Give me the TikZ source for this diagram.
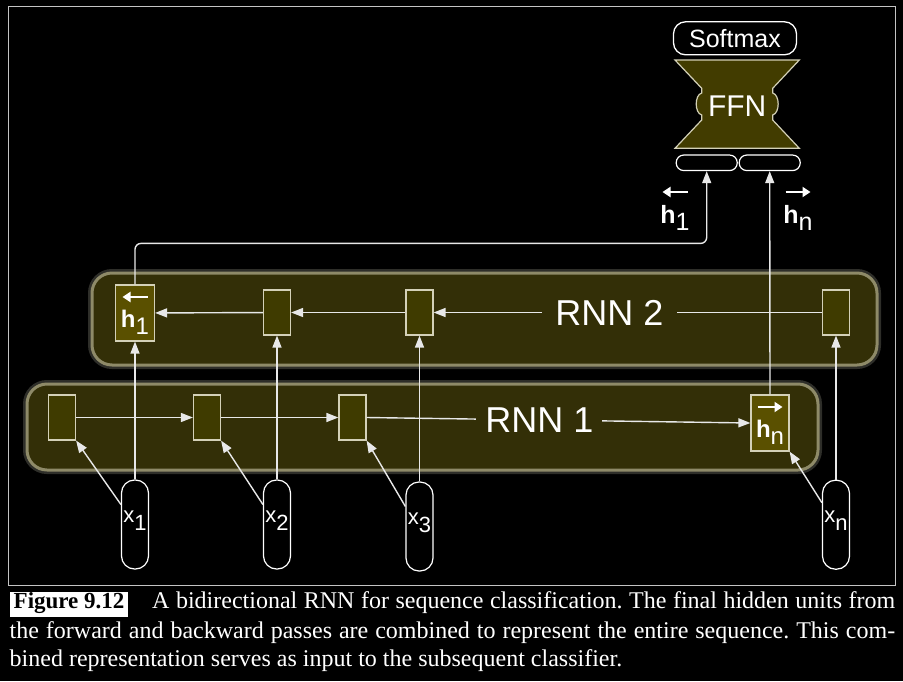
\documentclass[tikz,border=0pt]{standalone}
\usepackage{fontspec}
\setmainfont{Liberation Sans}
\newfontfamily\capfont{Liberation Serif}
\usetikzlibrary{arrows.meta,calc}
\definecolor{rnnfill}{HTML}{332F07}
\definecolor{rnnborder}{HTML}{8E8A68}
\definecolor{cellfill}{HTML}{3F3B00}
\definecolor{hcellfill}{HTML}{5A5000}
\definecolor{cellborder}{HTML}{D4D1B8}
\definecolor{ffnfill}{HTML}{423C00}
\definecolor{linecol}{HTML}{E8E8E8}
\definecolor{framecol}{HTML}{C4C4C4}
\newcommand\larrow{\tikz[baseline=-3pt]\draw[white, line width=2.2pt, -{Triangle[length=8pt,width=10pt]}] (25pt,0pt) -- (0pt,0pt);}
\newcommand\rarrow{\tikz[baseline=-3pt]\draw[white, line width=2.2pt, -{Triangle[length=8pt,width=10pt]}] (0pt,0pt) -- (25pt,0pt);}
\newcommand\hlab[2]{#1\\\textbf{h}\raisebox{-7pt}{#2}}
\tikzset{
  rnnbox/.style={draw=rnnborder, fill=rnnfill, line width=3pt, rounded corners=20pt,
    preaction={draw=rnnborder!60!white, line width=8pt, opacity=0.25}},
  cell/.style={draw=cellborder, fill=cellfill, line width=1.2pt, minimum width=27pt,
    minimum height=45pt, inner sep=0pt},
  hcell/.style={cell, fill=hcellfill, minimum width=39pt, minimum height=56pt,
    text=white, align=center, font=\fontsize{24}{27}\selectfont},
  pill/.style={draw=white, fill=black, line width=1.2pt, rounded corners=13pt,
    minimum width=27pt, minimum height=89pt, inner sep=0pt, text=white,
    font=\fontsize{22}{22}\selectfont, text height=14pt, text depth=18.6pt},
  slot/.style={draw=white, fill=black, line width=1.2pt, rounded corners=7.5pt,
    minimum height=15.5pt, inner sep=0pt},
  conn/.style={draw=linecol, line width=1.4pt, -{Triangle[length=12pt,width=9pt]}},
  lab/.style={fill=rnnfill, text=white, font=\fontsize{36}{36}\selectfont, inner ysep=2pt},
  toplab/.style={text=white, align=center, font=\fontsize{25}{28}\selectfont, inner sep=0pt},
  captext/.style={anchor=base west, inner sep=0pt, text=white,
    font=\capfont\fontsize{24}{29}\selectfont\frenchspacing}
}
\begin{document}
\begin{tikzpicture}[x=1pt,y=-1pt]
\fill[black] (0,0) rectangle (903,681);
\useasboundingbox (0,0) rectangle (903,681);
\draw[framecol, line width=1.5pt] (8.5,6.5) rectangle (895.5,585.5);

% RNN containers
\node[rnnbox, minimum width=785pt, minimum height=92pt] (rnn2) at (484.5,319) {};
\node[rnnbox, minimum width=791pt, minimum height=86pt] (rnn1) at (422.5,427) {};

% RNN 2 cells
\node[hcell] (r2a) at (135,313) {\hlab{\larrow}{1}};
\node[cell] (r2b) at (277,312.5) {};
\node[cell] (r2c) at (419.5,312.5) {};
\node[cell] (r2d) at (836,312.5) {};

% RNN 1 cells
\node[cell] (r1a) at (62,417.5) {};
\node[cell] (r1b) at (207,417.5) {};
\node[cell] (r1c) at (352.5,417.5) {};
\node[hcell, minimum width=38pt] (r1d) at (770,423) {\hlab{\rarrow}{n}};

% inputs
\node[pill] (x1) at (135,524.5) {x\raisebox{-8pt}{1}};
\node[pill] (x2) at (277,524.5) {x\raisebox{-8pt}{2}};
\node[pill] (x3) at (419.5,526.5) {x\raisebox{-8pt}{3}};
\node[pill] (xn) at (836,524.7) {x\raisebox{-8pt}{n}};

% classifier
\node[draw=white, fill=black, line width=1.3pt, rounded corners=12pt, minimum width=123pt,
  minimum height=33pt, inner sep=0pt, text=white, font=\fontsize{25}{25}\selectfont]
  (softmax) at (735,38.3) {Softmax};
\fill[ffnfill, draw=cellborder, line width=1.2pt]
  (675,60) -- (799.3,60) -- (772.7,88.3) -- (772.7,93)
  .. controls (780,95) and (780,113) .. (772.7,115) -- (772.7,120)
  -- (799.3,148.3) -- (675,148.3) -- (701.7,120) -- (701.7,115)
  .. controls (694.4,113) and (694.4,95) .. (701.7,93) -- (701.7,88.3) -- cycle;
\node[text=white, font=\fontsize{30}{30}\selectfont, inner sep=0pt] (ffn) at (737.2,106) {FFN};
\node[slot, minimum width=61pt] (slotL) at (706.7,162.8) {};
\node[slot, minimum width=61pt] (slotR) at (769.7,162.8) {};
\node[toplab] (hl) at (675,208.5) {\hlab{\larrow}{1}};
\node[toplab] (hr) at (798,208.5) {\hlab{\rarrow}{n}};

% RNN 1 connections
\draw[conn] (r1a) -- (r1b);
\draw[conn] (r1b) -- (r1c);
\draw[conn] (r1c.east) -- node[lab, inner xsep=9pt, pos=0.45] {RNN 1} (r1d.west);
% RNN 2 connections
\draw[conn] (r2d.west) -- node[lab, inner xsep=13pt, pos=0.547] {RNN 2} (r2c.east);
\draw[conn] (r2c) -- (r2b);
\draw[conn] (r2b) -- (r2a);

% inputs to cells
\draw[conn] (x1) -- (r2a);
\draw[conn] (x2) -- (r2b);
\draw[conn] (x3) -- (r2c);
\draw[conn] (xn) -- (r2d);
\draw[conn] ([yshift=20pt]x1.west) -- (r1a.south east);
\draw[conn] ([yshift=20pt]x2.west) -- (r1b.south east);
\draw[conn] ([yshift=20pt]x3.west) -- (r1c.south east);
\draw[conn] ([yshift=22pt]xn.west) -- (r1d.south east);

% to classifier
\draw[conn, rounded corners=6pt] (r2a.north) -- ++(0,-41) -| (slotL.south);
\draw[conn] (r1d.north) -- (slotR.south);

% caption
\node[fill=white, text=black, inner xsep=3.5pt, inner ysep=0pt, text height=16pt, text depth=9pt,
  anchor=base west, font=\capfont\bfseries\fontsize{23}{29}\selectfont] (figlab) at (10,608.3) {Figure 9.12};
\node[captext] (cap1) at (152,608.3) {\makebox[743pt][s]{A bidirectional RNN for sequence classification. The final hidden units from}};
\node[captext] (cap2) at (9.5,638.3) {\makebox[885.5pt][s]{the forward and backward passes are combined to represent the entire sequence. This com-}};
\node[captext] (cap3) at (9.5,666.7) {bined representation serves as input to the subsequent classifier.};
\end{tikzpicture}
\end{document}
